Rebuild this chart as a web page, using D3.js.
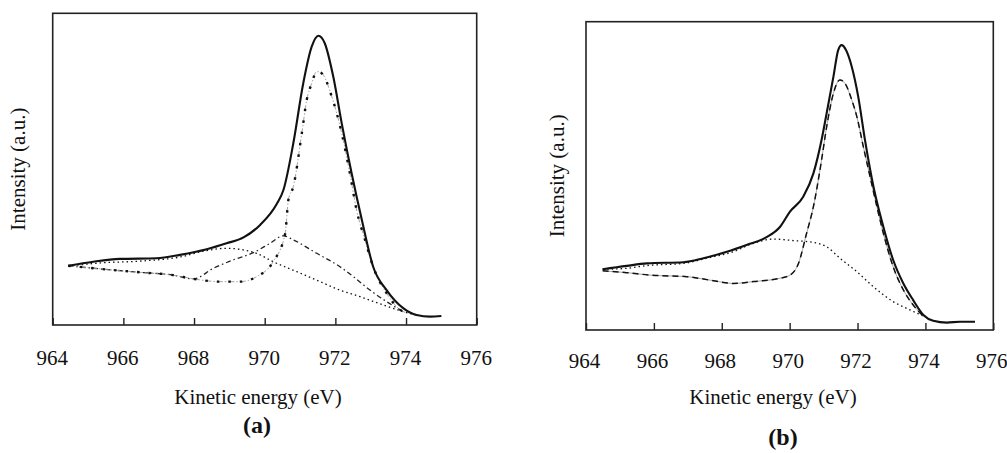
<!DOCTYPE html>
<html>
<head>
<meta charset="utf-8">
<script src="https://cdn.jsdelivr.net/npm/d3@7"></script>
<style>
  body { margin: 0; background: #fff; }
  svg { display: block; }
</style>
</head>
<body>
<svg id="chart" width="1007" height="453"></svg>
<script>
// ticks shared by both panels
const xTicks = [964, 966, 968, 970, 972, 974, 976];

// panel (a): energy (eV) / intensity (a.u.)
const aTotalE = [964.44, 965.15, 965.9, 966.94, 967.6, 968.36, 968.92, 969.4, 969.87, 970.34, 970.53, 970.81, 971.09, 971.33, 971.52, 971.7, 971.94, 972.18, 972.46, 972.75, 973.07, 973.45, 973.92, 974.3, 974.68, 975.0];
const aTotalI = [19.0, 20.3, 21.2, 21.4, 22.5, 24.3, 26.2, 28.1, 32.1, 38.8, 43.3, 58.3, 77.5, 89.3, 92.8, 90.4, 79.7, 64.7, 48.7, 33.7, 18.7, 11.2, 5.4, 3.2, 2.7, 2.9];

const aMainE = [964.44, 965.34, 966.47, 967.41, 967.98, 968.74, 969.3, 969.77, 970.24, 970.58, 970.67, 970.81, 971.05, 971.19, 971.33, 971.47, 971.61, 971.9, 972.18, 972.41, 972.6, 972.84, 973.07, 973.45, 973.92, 974.11];
const aMainI = [19.0, 18.0, 16.9, 16.0, 14.8, 13.9, 13.9, 15.5, 20.3, 29.4, 40.1, 44.4, 61.5, 72.2, 77.5, 81.3, 80.8, 73.2, 61.5, 48.7, 36.9, 27.3, 18.7, 10.2, 4.3, 3.8];

const aBroadE = [964.44, 965.34, 966.47, 967.41, 967.98, 968.55, 969.11, 969.68, 970.15, 970.53, 970.81, 971.47, 972.13, 972.51, 972.98, 973.45, 973.92];
const aBroadI = [19.0, 18.0, 16.9, 16.0, 14.8, 18.2, 20.9, 23.2, 26.2, 28.6, 27.3, 23.0, 18.7, 15.5, 11.2, 7.5, 4.3];

const aLowE = [964.44, 965.34, 966.47, 967.6, 968.36, 968.92, 969.39, 969.77, 970.24, 970.91, 971.47, 972.13, 972.7, 973.36, 973.92, 974.28];
const aLowI = [18.9, 19.9, 20.5, 21.8, 23.9, 24.6, 24.1, 23.0, 20.3, 17.1, 14.4, 11.2, 9.1, 6.4, 4.3, 3.2];

// panel (b)
const bTotalE = [964.49, 965.2, 965.79, 966.87, 967.46, 968.15, 968.73, 969.32, 969.72, 970.01, 970.4, 970.7, 970.94, 971.09, 971.29, 971.43, 971.53, 971.66, 971.83, 972.02, 972.22, 972.47, 972.76, 973.05, 973.35, 973.64, 973.94, 974.23, 974.63, 975.02, 975.46];
const bTotalI = [19.7, 20.8, 21.6, 22.0, 23.3, 25.4, 27.6, 30.1, 33.5, 38.4, 43.2, 50.8, 61.6, 70.3, 82.2, 90.8, 92.4, 90.8, 85.4, 75.7, 61.6, 46.5, 33.5, 22.7, 15.1, 9.7, 4.9, 3.0, 2.4, 2.7, 2.7];

const bMainE = [964.49, 965.2, 965.89, 966.97, 967.75, 968.34, 968.93, 969.72, 970.01, 970.26, 970.5, 970.7, 970.94, 971.09, 971.29, 971.48, 971.63, 971.83, 971.98, 972.17, 972.37, 972.57, 972.76, 973.05, 973.35, 973.64, 973.94];
const bMainI = [19.2, 18.6, 17.8, 17.3, 16.0, 15.1, 15.7, 16.8, 17.8, 21.6, 31.4, 40.0, 55.1, 65.9, 76.8, 81.1, 80.0, 74.6, 69.2, 59.5, 49.7, 40.0, 31.4, 20.5, 13.0, 8.1, 4.5];

const bLowE = [964.49, 965.2, 965.79, 966.87, 967.56, 968.34, 968.93, 969.52, 970.11, 970.7, 971.09, 971.48, 971.98, 972.47, 973.05, 973.55, 973.94];
const bLowI = [19.7, 20.0, 20.9, 21.6, 23.3, 25.4, 28.1, 29.5, 29.0, 28.4, 27.0, 23.3, 18.9, 14.0, 9.2, 6.5, 4.5];

const FONT = "Liberation Serif";
const K = 0.875; // 24px * 0.875 = 21px

const zip = (xs, ys) => xs.map((x, i) => [x, ys[i]]);

const svg = d3.select("#chart");

function drawPanel(p) {
    const g = svg.append("g");
    const x = d3.scaleLinear().domain([964, 976]).range([p.left, p.right]);
    const y = d3.scaleLinear().domain([0, 100]).range([p.bottom, p.top]);

    const line = d3.line()
        .x(d => x(d[0]))
        .y(d => y(d[1]))
        .curve(d3.curveMonotoneX);

    // frame
    g.append("rect")
        .attr("x", p.left).attr("y", p.top)
        .attr("width", p.right - p.left).attr("height", p.bottom - p.top)
        .attr("fill", "none").attr("stroke", "#222").attr("stroke-width", 1.6);

    // bottom axis, ticks pointing inward
    const axis = g.append("g")
        .attr("transform", "translate(0," + p.bottom + ")")
        .call(d3.axisBottom(x).tickValues(xTicks).tickSize(-7).tickPadding(0).tickFormat(d3.format("d")));
    axis.select(".domain").remove();
    axis.selectAll(".tick line").attr("stroke", "#222").attr("stroke-width", 1.4);
    axis.selectAll(".tick text")
        .attr("y", 0).attr("dy", 0)
        .attr("transform", "translate(" + p.tickShift + "," + (p.tickBase - p.bottom) + ") scale(" + K + ")")
        .attr("fill", "#111")
        .style("font-family", FONT)
        .style("font-size", "24px");

    // curves
    p.curves.forEach(c => {
        if (c.under) {
            g.append("path").datum(c.data).attr("d", line)
                .attr("fill", "none").attr("stroke", "#999").attr("stroke-width", 0.9)
                .attr("stroke-dasharray", c.under);
        }
        g.append("path").datum(c.data).attr("d", line)
            .attr("fill", "none")
            .attr("stroke", c.color || "#111")
            .attr("stroke-width", c.width)
            .attr("stroke-dasharray", c.dash || null)
            .attr("stroke-linejoin", "round");
    });

    // labels
    g.append("text")
        .attr("transform", "translate(" + p.yLabelX + "," + ((p.top + p.bottom) / 2) + ") rotate(-90) scale(" + K + ")")
        .attr("text-anchor", "middle").attr("dy", "0.35em")
        .attr("fill", "#111")
        .style("font-family", FONT)
        .style("font-size", "24px")
        .text("Intensity (a.u.)");

    g.append("text")
        .attr("transform", "translate(" + p.titleX + "," + p.titleBase + ") scale(" + K + ")")
        .attr("text-anchor", "middle")
        .attr("fill", "#111")
        .style("font-family", FONT)
        .style("font-size", "24px")
        .text("Kinetic energy (eV)");

    g.append("text")
        .attr("x", p.letterX).attr("y", p.letterBase)
        .attr("text-anchor", "middle")
        .attr("fill", "#111")
        .style("font-family", FONT)
        .style("font-size", "24px").style("font-weight", "bold")
        .text(p.letter);
}

drawPanel({
    left: 52.7, right: 476.7, top: 13.3, bottom: 325,
    tickBase: 365, tickShift: -1, yLabelX: 18, titleX: 258, titleBase: 404,
    letterX: 257, letterBase: 433, letter: "(a)",
    curves: [
        { data: zip(aLowE, aLowI), width: 1.3, dash: "1.5,3" },
        { data: zip(aBroadE, aBroadI), width: 1.3, dash: "5,3,1.5,3", color: "#222" },
        { data: zip(aMainE, aMainI), width: 2.4, dash: "2.5,9", under: "6,2,1.5,2" },
        { data: zip(aTotalE, aTotalI), width: 2.1 }
    ]
});

drawPanel({
    left: 586, right: 993.3, top: 21.7, bottom: 330,
    tickBase: 368, tickShift: -2, yLabelX: 557, titleX: 773, titleBase: 404,
    letterX: 783, letterBase: 445, letter: "(b)",
    curves: [
        { data: zip(bLowE, bLowI), width: 1.3, dash: "1.5,3" },
        { data: zip(bMainE, bMainI), width: 1.5, dash: "6,4", under: "none" },
        { data: zip(bTotalE, bTotalI), width: 2.1 }
    ]
});
</script>
</body>
</html>
